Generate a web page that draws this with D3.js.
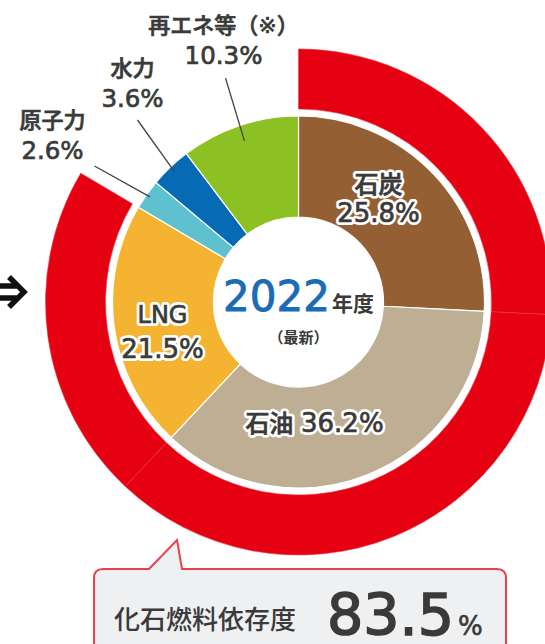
<!DOCTYPE html>
<html>
<head>
<meta charset="utf-8">
<script src="https://cdn.jsdelivr.net/npm/d3@7"></script>
<style>
  body { margin: 0; background: #fff; }
  text { font-family: "DejaVu Sans", "Noto Sans CJK JP", sans-serif; }
</style>
</head>
<body>
<div id="chart"></div>
<script>
// data
var sources = ["石炭", "石油", "LNG", "原子力", "水力", "再エネ等（※）"];
var shares = [25.8, 36.2, 21.5, 2.6, 3.6, 10.3];
var isFossil = [true, true, true, false, false, false];
var fossilShare = 83.5;
var year = "2022";

var colors = ["#935f33", "#bdae94", "#f4b331", "#5dc1d0", "#066bb4", "#8cc023"];

// label layout, relative to the pie centre
// inline: one line "name value", otherwise two lines
var labelPos = [
  {x: 80, y: -109, dy: 29, inside: true},
  {x: 16, y: 130, inline: true, inside: true},
  {x: -136, y: 21, dy: 35, inside: true},
  {x: -246, y: -174, dy: 31},
  {x: -166, y: -226, dy: 31},
  {x: -75, y: -269, dy: 31}
];
// leader line start (outer end), relative to centre, and radius of inner end
var leaders = [null, null, null,
  {x: -204, y: -136, r: 182},
  {x: -161, y: -182, r: 180},
  {x: -73, y: -224, r: 170}
];

var ink = "#3a3a3a";

function fillLabel(t, p, i) {
  var nameSize = p.inside ? 24 : 22;
  var valSize = p.inside ? 26 : 24.5;
  if (p.inline) {
    t.attr("x", p.x).attr("y", p.y)
    t.append("tspan").attr("font-size", nameSize).text(sources[i] + " ")
    t.append("tspan").attr("font-size", valSize).text(shares[i].toFixed(1) + "%")
  } else {
    t.append("tspan")
    .attr("x", p.x)
    .attr("y", p.y)
    .attr("font-size", nameSize)
    .text(sources[i])
    t.append("tspan")
    .attr("x", p.x)
    .attr("y", p.y + p.dy)
    .attr("font-size", valSize)
    .text(shares[i].toFixed(1) + "%")
  }
}

function drawSvg() {
  var width = 545;
  var height = 644;
  var cx = 298.5;
  var cy = 302;

  var svg = d3.select("#chart")
  .append("svg")
  .attr("width", width)
  .attr("height", height)

  var g = svg.append("g")
  .attr("transform", "translate(" + cx + "," + cy + ")")

  var pie = d3.pie()
  .sort(null)
  .value(d => d)

  var arcs = pie(shares)

  var arc = d3.arc()
  .innerRadius(85)
  .outerRadius(186)

  var ringArc = d3.arc()
  .innerRadius(193)
  .outerRadius(253)

  // red fossil ring
  g.selectAll("path.ring")
  .data(arcs.filter((d, i) => isFossil[i]))
  .enter()
  .append("path")
  .attr("class", "ring")
  .attr("d", ringArc)
  .attr("fill", "#e50012")
  .attr("stroke", "#ec3442")
  .attr("stroke-width", 0.6)

  // main donut
  g.selectAll("path.slice")
  .data(arcs)
  .enter()
  .append("path")
  .attr("class", "slice")
  .attr("d", arc)
  .attr("fill", (d, i) => colors[i])
  .attr("stroke", "#fff")
  .attr("stroke-width", 1.2)

  // leader lines
  arcs.forEach(function(d, i) {
    var l = leaders[i];
    if (!l) return;
    var a = (d.startAngle + d.endAngle) / 2;
    g.append("line")
    .attr("x1", l.x)
    .attr("y1", l.y)
    .attr("x2", Math.sin(a) * l.r)
    .attr("y2", -Math.cos(a) * l.r)
    .attr("stroke", "#444")
    .attr("stroke-width", 1.3)
  })

  // labels (white halo underneath for the ones on the donut)
  arcs.forEach(function(d, i) {
    var p = labelPos[i];
    if (p.inside) {
      var h = g.append("text")
      .attr("text-anchor", "middle")
      .attr("font-weight", 500)
      .attr("fill", "#fff")
      .attr("stroke", "#fff")
      .attr("stroke-width", 6)
      .attr("stroke-linejoin", "round")
      fillLabel(h, p, i)
    }
    var t = g.append("text")
    .attr("text-anchor", "middle")
    .attr("font-weight", 500)
    .attr("fill", ink)
    .attr("stroke", ink)
    .attr("stroke-width", 0.7)
    fillLabel(t, p, i)
  })

  // centre text
  var c = g.append("text")
  .attr("text-anchor", "middle")
  .attr("y", 9)
  c.append("tspan")
  .attr("font-size", 42)
  .attr("fill", "#1a6cb4")
  .attr("stroke", "#1a6cb4")
  .attr("stroke-width", 0.9)
  .text(year)
  c.append("tspan")
  .attr("font-size", 21)
  .attr("font-weight", 700)
  .attr("fill", ink)
  .attr("dx", 2)
  .text("年度")

  g.append("text")
  .attr("text-anchor", "middle")
  .attr("x", 0)
  .attr("y", 41)
  .attr("font-size", 15)
  .attr("font-weight", 700)
  .attr("fill", ink)
  .text("（最新）")

  // arrow on the left edge
  svg.append("path")
  .attr("d", "M0,286 H18 M0,298 H18 M9,277 L24,292 L9,307")
  .attr("fill", "none")
  .attr("stroke", "#111")
  .attr("stroke-width", 5.5)

  // callout
  var bx = 94, by = 569, bw = 412, bh = 90, r = 9;
  var callout = "M" + (bx + r) + "," + by +
    " H149 L177,540 L182," + by +
    " H" + (bx + bw - r) + " Q" + (bx + bw) + "," + by + " " + (bx + bw) + "," + (by + r) +
    " V" + (by + bh - r) + " Q" + (bx + bw) + "," + (by + bh) + " " + (bx + bw - r) + "," + (by + bh) +
    " H" + (bx + r) + " Q" + bx + "," + (by + bh) + " " + bx + "," + (by + bh - r) +
    " V" + (by + r) + " Q" + bx + "," + by + " " + (bx + r) + "," + by + " Z";
  svg.append("path")
  .attr("d", callout)
  .attr("fill", "#eef0f2")
  .attr("stroke", "#e8404c")
  .attr("stroke-width", 2)

  svg.append("text")
  .attr("x", 114)
  .attr("y", 629)
  .attr("font-size", 26)
  .attr("font-weight", 500)
  .attr("fill", ink)
  .text("化石燃料依存度")

  var big = svg.append("text")
  .attr("x", 327)
  .attr("y", 635)
  .attr("fill", ink)
  .attr("stroke", ink)
  big.append("tspan")
  .attr("font-size", 57)
  .attr("stroke-width", 1.6)
  .text(fossilShare.toFixed(1))
  big.append("tspan")
  .attr("font-size", 26)
  .attr("stroke-width", 0.6)
  .attr("dx", 4)
  .text("%")
}

drawSvg();
</script>
</body>
</html>
